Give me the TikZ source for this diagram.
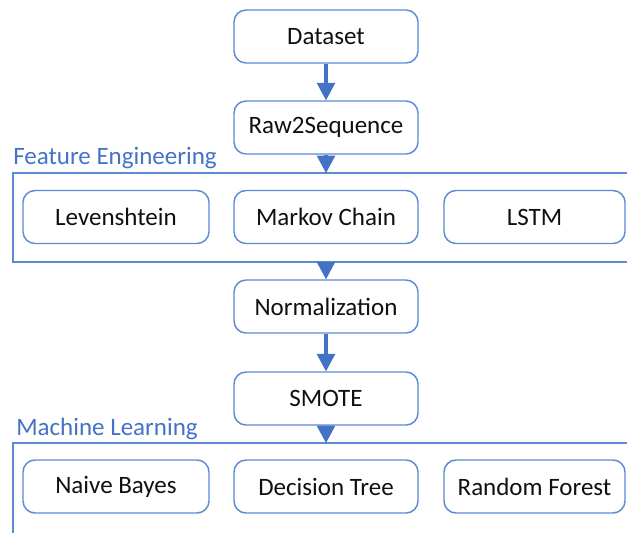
\documentclass[tikz,border=0pt]{standalone}
\usepackage{fontspec}
\setmainfont{Carlito}
\usetikzlibrary{arrows.meta}

\definecolor{boxline}{HTML}{5B8BD5}
\definecolor{groupline}{HTML}{5B8BD5}
\definecolor{accent}{HTML}{4472C4}
\definecolor{ink}{HTML}{101010}

\tikzset{
  stagebox/.style={draw=boxline, line width=1.1pt, rounded corners=9pt, fill=white,
    minimum width=138pt, minimum height=39.75pt, inner sep=0pt,
    text=ink, font=\fontsize{18.75}{22}\selectfont},
  groupframe/.style={draw=groupline, line width=1pt},
  grouplabel/.style={anchor=base west, inner sep=0pt, text=accent,
    font=\fontsize{18.75}{22}\selectfont},
  flow/.style={draw=accent, line width=3.6pt,
    -{Triangle[width=14pt, length=13pt, line width=0pt]}},
}

\begin{document}
\begin{tikzpicture}[x=0.75pt, y=-0.75pt]
  \useasboundingbox (0,0) rectangle (627,532);
  \clip (0,0) rectangle (627,532);

  % group frames (they run past the right and bottom edges)
  \coordinate (fe) at (13,173);
  \coordinate (fecorner) at (640,262);
  \coordinate (ml) at (13,443);
  \coordinate (mlcorner) at (640,560);
  \draw[groupframe] (fe) rectangle (fecorner);
  \draw[groupframe] (ml) rectangle (mlcorner);
  \node[grouplabel] (felabel) at (13,164) {Feature Engineering};
  \node[grouplabel] (mllabel) at (16,435) {Machine Learning};

  % pipeline stages
  \node[stagebox] (dataset) at (326,36.5) {Dataset};
  \node[stagebox] (raw) at (326,127.5) {Raw2Sequence};
  \node[stagebox] (norm) at (326,306.5) {Normalization};
  \node[stagebox] (smote) at (326,398.5) {SMOTE};

  % feature extractors
  \node[stagebox, minimum width=139.5pt] (lev) at (116,217) {Levenshtein};
  \node[stagebox] (markov) at (326,217) {Markov Chain};
  \node[stagebox, minimum width=135.75pt] (lstm) at (534.5,217) {LSTM};

  % classifiers
  \node[stagebox, minimum width=139.5pt] (nb) at (116,486.5) {Naive Bayes};
  \node[stagebox] (dt) at (326,486.5) {Decision Tree};
  \node[stagebox, minimum width=135.75pt] (rf) at (534.5,486.5) {Random Forest};

  % connectors
  \draw[flow] (dataset.south) -- (raw.north);
  \draw[flow] (raw.south) -- (raw.south |- fe);
  \draw[flow] (raw.south |- fecorner) -- (norm.north);
  \draw[flow] (norm.south) -- (smote.north);
  \draw[flow] (smote.south) -- (smote.south |- ml);
\end{tikzpicture}
\end{document}
